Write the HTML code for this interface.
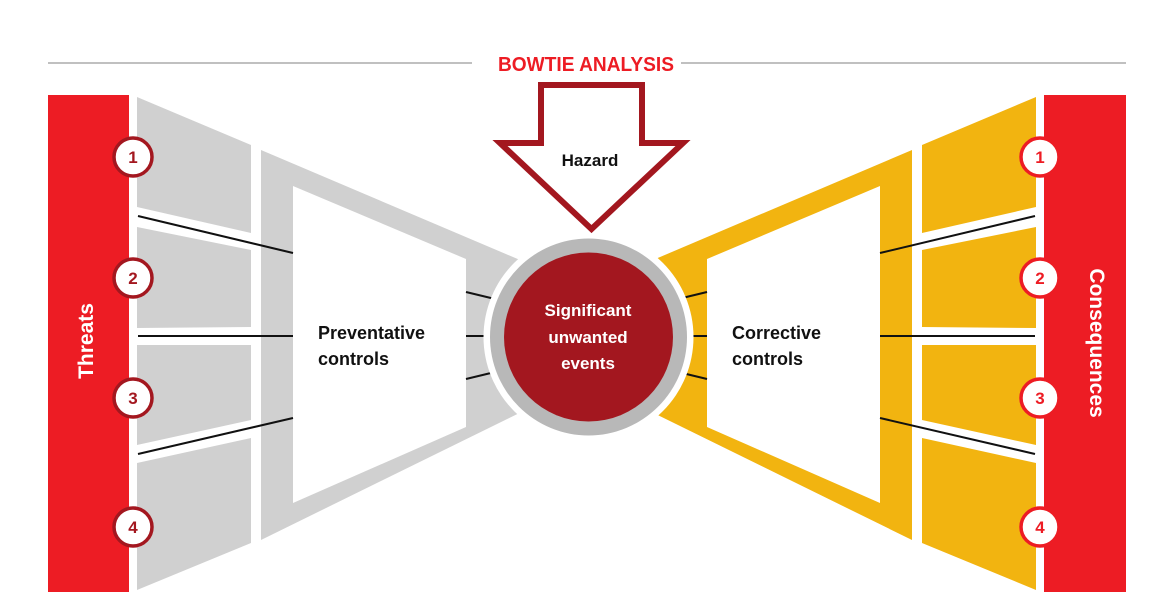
<!DOCTYPE html>
<html><head><meta charset="utf-8"><style>
html,body{margin:0;padding:0;background:#fff;width:1173px;height:600px;overflow:hidden}
svg{display:block}
text{font-family:"Liberation Sans",sans-serif;font-weight:bold}
</style></head><body>
<svg width="1173" height="600" viewBox="0 0 1173 600">
<line x1="48" y1="63" x2="472" y2="63" stroke="#9a9a9a" stroke-width="1.2"/>
<line x1="681" y1="63" x2="1126" y2="63" stroke="#9a9a9a" stroke-width="1.2"/>
<text x="586" y="71" text-anchor="middle" font-size="20" fill="#ed1c24" textLength="176" lengthAdjust="spacingAndGlyphs">BOWTIE ANALYSIS</text>

<g id="left">
<rect x="48" y="95" width="81" height="497" fill="#ed1c24"/>
<polygon points="137,97 251,145 251,233 137,207" fill="#d0d0d0"/>
<polygon points="137,227 251,250 251,327 137,328" fill="#d0d0d0"/>
<polygon points="137,345 251,345 251,420 137,445" fill="#d0d0d0"/>
<polygon points="137,463 251,438 251,543 137,590" fill="#d0d0d0"/>
<polygon points="261,150 560,277 560,393 261,540" fill="#d0d0d0"/>
<polygon points="293,186 466,259 466,427 293,503" fill="#fff"/>
<g stroke="#111" stroke-width="2">
<line x1="138" y1="216" x2="293" y2="253"/>
<line x1="138" y1="336" x2="293" y2="336"/>
<line x1="138" y1="454" x2="293" y2="418"/>
<line x1="466" y1="292" x2="495" y2="299"/>
<line x1="466" y1="336" x2="490" y2="336"/>
<line x1="466" y1="379" x2="495" y2="372"/>
</g>
</g>
<g fill="#f2b410">
<rect x="1044" y="95" width="82" height="497" fill="#ed1c24"/>
<polygon points="1036,97 922,145 922,233 1036,207"/>
<polygon points="1036,227 922,250 922,327 1036,328"/>
<polygon points="1036,345 922,345 922,420 1036,445"/>
<polygon points="1036,463 922,438 922,543 1036,590"/>
<polygon points="912,150 613,277 613,393 912,540"/>
<polygon points="880,186 707,259 707,427 880,503" fill="#fff"/>
<g stroke="#111" stroke-width="2">
<line x1="1035" y1="216" x2="880" y2="253"/>
<line x1="1035" y1="336" x2="880" y2="336"/>
<line x1="1035" y1="454" x2="880" y2="418"/>
<line x1="707" y1="292" x2="678" y2="299"/>
<line x1="707" y1="336" x2="683" y2="336"/>
<line x1="707" y1="379" x2="678" y2="372"/>
</g>
</g>

<circle cx="588.5" cy="337" r="105" fill="#fff"/>
<circle cx="588.5" cy="337" r="98.5" fill="#b8b8b8"/>
<circle cx="588.5" cy="337" r="84.5" fill="#a3171f"/>
<g fill="#fff" font-size="17" text-anchor="middle">
<text x="588" y="316">Significant</text>
<text x="588" y="343">unwanted</text>
<text x="588" y="369">events</text>
</g>

<polygon points="541,85 642,85 642,143 683,143 591.5,229 500,143 541,143" fill="#fff" stroke="#a3171f" stroke-width="6" stroke-linejoin="miter"/>
<text x="590" y="166" text-anchor="middle" font-size="17" fill="#111">Hazard</text>

<g font-size="18" fill="#111">
<text x="318" y="339">Preventative</text>
<text x="318" y="365">controls</text>
<text x="732" y="339">Corrective</text>
<text x="732" y="365">controls</text>
</g>

<text transform="translate(93,341) rotate(-90)" text-anchor="middle" font-size="21" fill="#fff" font-weight="normal">Threats</text>
<text transform="translate(1090,343) rotate(90)" text-anchor="middle" font-size="21" fill="#fff" font-weight="normal">Consequences</text>

<g fill="#fff" stroke="#a3171f" stroke-width="3.5">
<circle cx="133" cy="157" r="19"/><circle cx="133" cy="278" r="19"/><circle cx="133" cy="398" r="19"/><circle cx="133" cy="527" r="19"/>
</g>
<g fill="#a3171f" font-size="17" text-anchor="middle">
<text x="133" y="163">1</text><text x="133" y="284">2</text><text x="133" y="404">3</text><text x="133" y="533">4</text>
</g>
<g fill="#fff" stroke="#ed1c24" stroke-width="3.5">
<circle cx="1040" cy="157" r="19"/><circle cx="1040" cy="278" r="19"/><circle cx="1040" cy="398" r="19"/><circle cx="1040" cy="527" r="19"/>
</g>
<g fill="#ed1c24" font-size="17" text-anchor="middle">
<text x="1040" y="163">1</text><text x="1040" y="284">2</text><text x="1040" y="404">3</text><text x="1040" y="533">4</text>
</g>
</svg>
</body></html>
